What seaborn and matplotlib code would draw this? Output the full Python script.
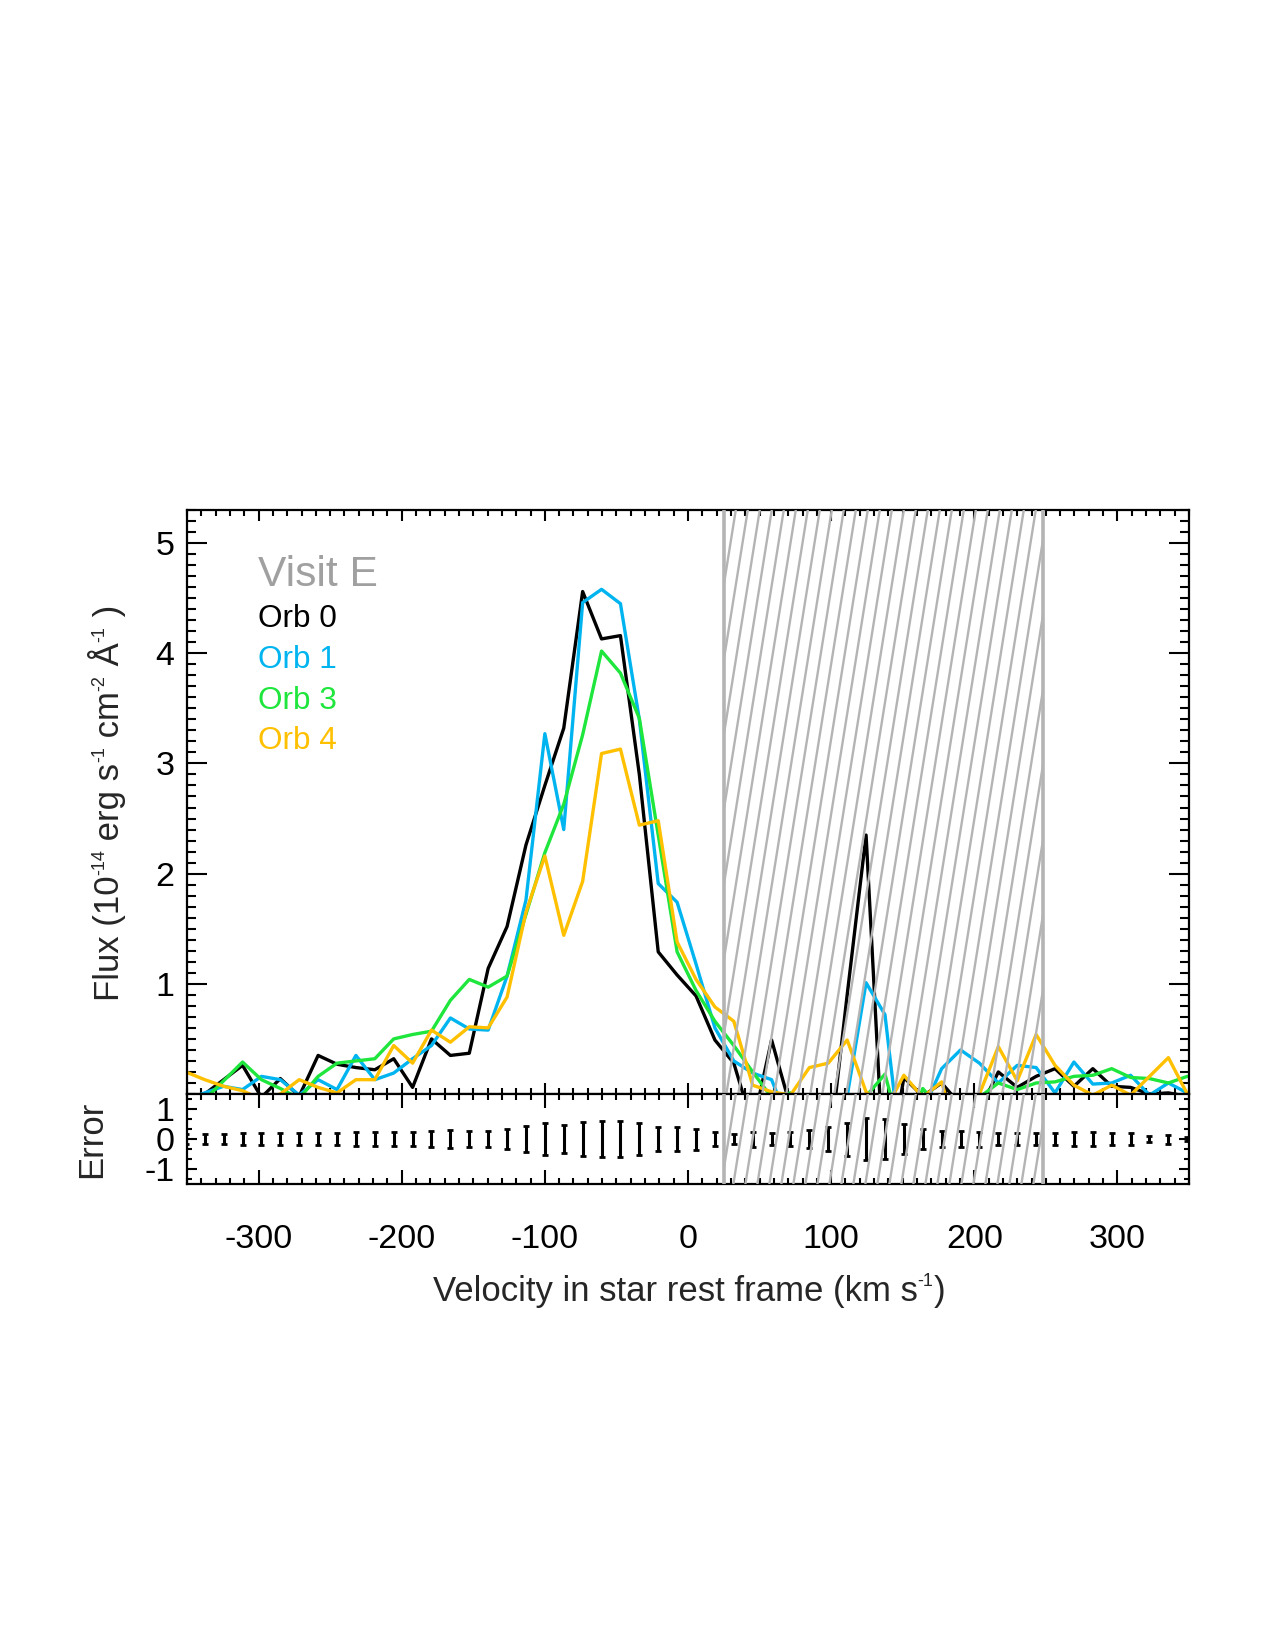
import numpy as np
import pandas as pd
import matplotlib
matplotlib.use("Agg")
import matplotlib.pyplot as plt
import seaborn as sns
from matplotlib.ticker import MultipleLocator, FixedLocator

# ---------------- data ----------------
velocity = [-350.8, -337.6, -324.4, -311.2, -298.0, -284.8, -271.6, -258.4, -245.2, -232.0,
            -218.8, -205.6, -192.4, -179.2, -166.0, -152.8, -139.6, -126.4, -113.2, -100.0,
            -86.8, -73.6, -60.4, -47.2, -34.0, -20.8, -7.6, 5.6, 18.8, 32.0,
            45.2, 58.4, 71.6, 84.8, 98.0, 111.2, 124.4, 137.6, 150.8, 164.0,
            177.2, 190.4, 203.6, 216.8, 230.0, 243.2, 256.4, 269.6, 282.8, 296.0,
            309.2, 322.4, 335.6, 348.8]

orb0 = [-0.10, 0.00, 0.13, 0.26, -0.03, 0.14, -0.02, 0.35, 0.27, 0.24,
        0.22, 0.32, 0.06, 0.50, 0.35, 0.37, 1.14, 1.52, 2.26, 2.80,
        3.32, 4.56, 4.13, 4.16, 2.90, 1.29, 1.08, 0.89, 0.49, 0.28,
        -0.29, 0.49, -0.12, -0.30, -0.60, 0.90, 2.35, -0.90, 0.15, -0.02,
        0.10, -0.10, -0.15, 0.20, 0.06, 0.16, 0.23, 0.07, 0.23, 0.07,
        0.06, 0.00, 0.01, -0.02]

orb1 = [-0.05, 0.01, 0.07, 0.04, 0.16, 0.13, -0.01, 0.13, 0.04, 0.35,
        0.13, 0.19, 0.32, 0.44, 0.69, 0.59, 0.58, 1.07, 1.76, 3.27,
        2.40, 4.46, 4.58, 4.45, 3.40, 1.91, 1.74, 1.18, 0.60, 0.30,
        0.19, 0.13, -0.30, -0.30, -0.30, -0.02, 1.01, 0.72, -0.75, -0.15,
        0.23, 0.40, 0.28, 0.10, 0.26, 0.24, 0.01, 0.29, 0.09, 0.10,
        0.17, -0.01, 0.10, 0.01]

orb3 = [-0.10, -0.05, 0.12, 0.29, 0.13, 0.05, -0.04, 0.16, 0.28, 0.30,
        0.32, 0.50, 0.54, 0.57, 0.85, 1.04, 0.97, 1.07, 1.63, 2.19,
        2.63, 3.26, 4.02, 3.82, 3.41, 2.35, 1.29, 0.94, 0.66, 0.44,
        0.20, -0.03, 0.01, -0.20, -0.30, -0.20, -0.02, 0.18, -0.45, 0.05,
        -0.15, -0.15, -0.03, 0.10, 0.04, 0.10, 0.11, 0.16, 0.17, 0.23,
        0.15, 0.14, 0.10, 0.16]

orb4 = [0.20, 0.13, 0.07, 0.03, -0.05, 0.00, 0.13, 0.06, 0.01, 0.13,
        0.13, 0.44, 0.28, 0.58, 0.47, 0.61, 0.60, 0.88, 1.65, 2.16,
        1.44, 1.93, 3.09, 3.13, 2.44, 2.48, 1.38, 1.04, 0.79, 0.66,
        0.08, 0.02, -0.01, 0.24, 0.28, 0.49, 0.02, -0.15, 0.17, -0.03,
        0.11, -0.50, 0.00, 0.43, 0.12, 0.54, 0.26, 0.08, -0.01, 0.08,
        -0.01, 0.16, 0.33, 0.00]

error = [0.17, 0.17, 0.18, 0.19, 0.21, 0.21, 0.21, 0.21, 0.21, 0.24,
         0.24, 0.24, 0.24, 0.27, 0.30, 0.27, 0.27, 0.32, 0.42, 0.54,
         0.47, 0.58, 0.61, 0.60, 0.52, 0.40, 0.40, 0.35, 0.23, 0.18,
         0.25, 0.19, 0.24, 0.29, 0.39, 0.55, 0.71, 0.66, 0.51, 0.33,
         0.27, 0.26, 0.25, 0.19, 0.21, 0.19, 0.21, 0.23, 0.23, 0.20,
         0.20, 0.10, 0.15, 0.08]

orb_names = ["Orb 0", "Orb 1", "Orb 3", "Orb 4"]
orb_colors = ["#000000", "#00B4F0", "#1EE63C", "#FFC000"]
title_text = "Visit E"
masked_range = (25.0, 248.0)
xtick_vals = [-300, -200, -100, 0, 100, 200, 300]
ytick_main = [1, 2, 3, 4, 5]
ytick_err = [-1, 0, 1]

# label pieces: (text, is_superscript)
xlabel_pieces = [("Velocity in star rest frame (km s", False), ("-1", True), (")", False)]
ylabel_pieces = [("Flux (10", False), ("-14", True), (" erg s", False), ("-1", True),
                 (" cm", False), ("-2", True), (" Å", False), ("-1", True), (" )", False)]
err_label = "Error"

# ---------------- style ----------------
sns.set_style("ticks")
plt.rcParams["font.family"] = ["Liberation Sans", "DejaVu Sans"]
plt.rcParams["axes.unicode_minus"] = False

W, H = 1275, 1650
fig = plt.figure(figsize=(W / 100, H / 100), dpi=100)
ax_l, ax_r = 187, 1189
main_top, main_bot, err_bot = 510, 1094, 1184
ax = fig.add_axes([ax_l / W, 1 - main_bot / H, (ax_r - ax_l) / W, (main_bot - main_top) / H])
axe = fig.add_axes([ax_l / W, 1 - err_bot / H, (ax_r - ax_l) / W, (err_bot - main_bot) / H])

df = pd.DataFrame({
    "velocity": velocity * 4,
    "flux": orb0 + orb1 + orb3 + orb4,
    "orb": [n for n in orb_names for _ in velocity],
})
sns.lineplot(data=df, x="velocity", y="flux", hue="orb", hue_order=orb_names,
             palette=dict(zip(orb_names, orb_colors)), estimator=None, sort=False,
             linewidth=2.4, legend=False, ax=ax)

axe.errorbar(velocity, [0.0] * len(velocity), yerr=error, fmt="none", ecolor="black",
             elinewidth=2.2, capsize=2.4, capthick=2.0, clip_on=True)

gray = "#B4B4B4"
XMIN, XMAX = -350, 350


def hatch(a, h_px):
    rect = a.axvspan(masked_range[0], masked_range[1], facecolor="none", edgecolor="none")
    px_per_kms = (ax_r - ax_l) / (XMAX - XMIN)
    shift = 0.16 * h_px / px_per_kms
    step = 12.0 / px_per_kms
    xb = masked_range[0] - shift
    while xb < masked_range[1]:
        ln, = a.plot([xb, xb + shift], [0, 1], transform=a.get_xaxis_transform(),
                     color=gray, lw=1.7, zorder=3)
        ln.set_clip_path(rect)
        xb += step
    for xv in masked_range:
        a.axvline(xv, color=gray, lw=2.6, zorder=3)


hatch(ax, main_bot - main_top)
hatch(axe, err_bot - main_bot)

# ---------------- axes ----------------
ax.set_xlim(XMIN, XMAX)
ax.set_ylim(0, 5.3)
axe.set_xlim(XMIN, XMAX)
axe.set_ylim(-1.5, 1.5)

for a in (ax, axe):
    a.xaxis.set_major_locator(FixedLocator(xtick_vals))
    a.xaxis.set_minor_locator(MultipleLocator(10))
    a.set_xlabel("")
    a.set_ylabel("")
    for s in a.spines.values():
        s.set_linewidth(1.6)
        s.set_color("black")
    a.tick_params(which="both", direction="in", top=True, right=True,
                  width=1.5, colors="black", labelsize=24.5)

ax.yaxis.set_major_locator(FixedLocator(ytick_main))
ax.yaxis.set_minor_locator(MultipleLocator(0.1))
ax.tick_params(axis="x", which="both", labelbottom=False)
ax.tick_params(axis="x", which="major", length=8)
ax.tick_params(axis="x", which="minor", length=4)
ax.tick_params(axis="y", which="major", length=14.5, pad=9)
ax.tick_params(axis="y", which="minor", length=6.5)

axe.yaxis.set_major_locator(FixedLocator(ytick_err))
axe.yaxis.set_minor_locator(MultipleLocator(1 / 3))
axe.tick_params(axis="x", which="major", length=10, pad=29)
axe.tick_params(axis="x", which="minor", length=4.3)
axe.tick_params(axis="y", which="major", length=7.2, pad=9)
axe.tick_params(axis="y", which="minor", length=3.6)

# ---------------- texts ----------------
fig.text(258 / W, 1 - 586 / H, title_text, fontsize=30.6, color="#A0A0A0", va="baseline")
for i, (name, col) in enumerate(zip(orb_names, orb_colors)):
    fig.text(258 / W, 1 - (627 + 40.8 * i) / H, name, fontsize=22.7, color=col, va="baseline")

MAIN_SIZE, SUP_SIZE, SUP_RISE = 25, 13, 15.0
renderer = fig.canvas.get_renderer()


def rich_label(pieces, cx, cy, vertical):
    """cx, cy in figure pixels from bottom-left; (cx, cy) = centre of baseline."""
    widths = []
    for txt, sup in pieces:
        t = fig.text(0, 0, txt, fontsize=SUP_SIZE if sup else MAIN_SIZE)
        widths.append(t.get_window_extent(renderer).width)
        t.remove()
    pos = -sum(widths) / 2
    for (txt, sup), w in zip(pieces, widths):
        rise = SUP_RISE if sup else 0.0
        size = SUP_SIZE if sup else MAIN_SIZE
        if vertical:
            fig.text((cx - rise) / W, (cy + pos) / H, txt, fontsize=size, rotation=90,
                     rotation_mode="anchor", ha="left", va="baseline")
        else:
            fig.text((cx + pos) / W, (cy + rise) / H, txt, fontsize=size,
                     ha="left", va="baseline")
        pos += w


rich_label(xlabel_pieces, 689, H - 1301, vertical=False)
rich_label(ylabel_pieces, 119, H - 803, vertical=True)
fig.text(92 / W, 1 - 1139 / H, err_label, rotation=90, ha="center", va="center", fontsize=25)

fig.savefig("out.png", dpi=100, facecolor="white")
